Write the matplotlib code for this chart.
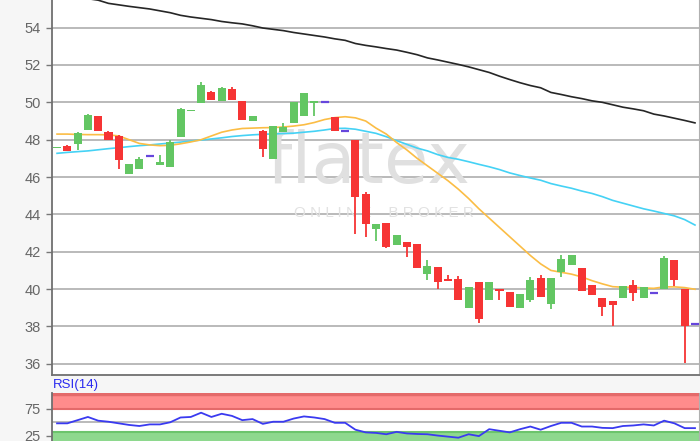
import numpy as np
import matplotlib
matplotlib.use('Agg')
import matplotlib.pyplot as plt

plt.rcParams['font.family'] = ['Liberation Sans', 'DejaVu Sans']

# daily candles (open, high, low, close)
opens = [47.55, 47.68, 47.77, 48.54, 49.27, 48.43, 48.21, 46.16, 46.43, 47.14,
         46.64, 46.52, 48.12, 49.52, 49.95, 50.57, 50.08, 50.71, 50.09, 49.02,
         48.44, 46.94, 48.40, 48.88, 49.29, 49.95, 50.00, 49.20, 48.49, 48.01,
         45.08, 43.22, 43.52, 42.36, 42.54, 42.41, 40.79, 41.17, 40.52, 40.54,
         39.00, 40.36, 39.44, 40.00, 39.87, 39.00, 39.42, 40.62, 39.20, 40.94,
         41.29, 41.12, 40.21, 39.52, 39.38, 39.50, 40.23, 39.50, 39.79, 40.00,
         41.54, 40.00, 38.14]
highs = [47.62, 47.73, 48.43, 49.35, 49.27, 48.45, 48.25, 46.70, 47.07, 47.14,
         47.20, 47.98, 49.70, 49.60, 51.07, 50.60, 50.80, 50.80, 50.09, 49.25,
         48.50, 48.72, 48.90, 50.00, 50.50, 50.09, 50.00, 49.20, 48.49, 48.01,
         45.18, 43.47, 43.52, 42.90, 42.54, 42.41, 41.55, 41.17, 40.75, 40.70,
         40.09, 40.40, 40.38, 40.00, 39.87, 39.74, 40.63, 40.76, 40.62, 41.83,
         41.83, 41.12, 40.21, 39.52, 39.38, 40.18, 40.50, 40.12, 39.79, 41.76,
         41.54, 40.00, 38.14]
lows = [47.55, 47.41, 47.46, 48.54, 48.46, 47.98, 46.43, 46.16, 46.43, 47.14,
        46.64, 46.52, 48.12, 49.52, 49.95, 50.14, 50.08, 50.14, 49.08, 49.02,
        47.07, 46.94, 48.40, 48.88, 49.29, 49.29, 50.00, 48.49, 48.49, 42.94,
        42.77, 42.58, 42.20, 42.36, 41.70, 41.11, 40.50, 40.02, 40.46, 39.42,
        39.00, 38.20, 39.44, 39.40, 39.02, 39.00, 39.29, 39.56, 38.94, 40.66,
        41.29, 39.91, 39.68, 38.58, 38.00, 39.50, 39.38, 39.50, 39.79, 40.00,
        40.18, 36.05, 38.14]
closes = [47.62, 47.41, 48.34, 49.32, 48.46, 47.98, 46.93, 46.70, 46.96, 47.14,
          46.82, 47.86, 49.64, 49.60, 50.93, 50.14, 50.78, 50.14, 49.08, 49.25,
          47.48, 48.72, 48.67, 50.00, 50.50, 50.09, 50.00, 48.49, 48.49, 44.93,
          43.49, 43.47, 42.27, 42.90, 42.24, 41.11, 41.24, 40.40, 40.46, 39.42,
          40.09, 38.40, 40.38, 39.92, 39.02, 39.74, 40.50, 39.56, 40.62, 41.60,
          41.83, 39.91, 39.68, 39.02, 39.17, 40.18, 39.77, 40.12, 39.79, 41.68,
          40.48, 38.05, 38.14]

# moving averages
ma_black = [55.85, 55.75, 55.65, 55.55, 55.47, 55.30, 55.22, 55.14, 55.07, 55.00,
            54.90, 54.80, 54.66, 54.57, 54.50, 54.43, 54.33, 54.26, 54.20, 54.10,
            53.98, 53.91, 53.84, 53.74, 53.66, 53.58, 53.50, 53.40, 53.32, 53.15,
            53.05, 52.97, 52.88, 52.80, 52.68, 52.55, 52.38, 52.27, 52.15, 52.03,
            51.90, 51.75, 51.60, 51.40, 51.22, 51.05, 50.90, 50.78, 50.53, 50.42,
            50.30, 50.20, 50.08, 50.00, 49.87, 49.74, 49.65, 49.55, 49.37, 49.27,
            49.15, 49.03, 48.90]
ma_orange = [48.30, 48.30, 48.28, 48.27, 48.27, 48.26, 48.20, 48.00, 47.80, 47.72,
             47.68, 47.70, 47.78, 47.88, 48.00, 48.20, 48.40, 48.52, 48.60, 48.62,
             48.64, 48.65, 48.68, 48.73, 48.80, 48.92, 49.08, 49.18, 49.23, 49.17,
             49.00, 48.62, 48.30, 47.85, 47.45, 47.00, 46.60, 46.20, 45.80, 45.35,
             44.85, 44.30, 43.80, 43.30, 42.80, 42.30, 41.80, 41.35, 41.00, 40.90,
             40.80, 40.65, 40.45, 40.28, 40.13, 40.10, 40.10, 40.06, 40.04, 40.12,
             40.12, 40.08, 39.99]
ma_cyan = [47.27, 47.32, 47.36, 47.40, 47.46, 47.52, 47.57, 47.63, 47.68, 47.72,
           47.77, 47.82, 47.87, 47.93, 47.98, 48.04, 48.10, 48.17, 48.22, 48.26,
           48.29, 48.31, 48.33, 48.35, 48.40, 48.45, 48.52, 48.60, 48.61, 48.56,
           48.45, 48.34, 48.16, 47.95, 47.75, 47.55, 47.40, 47.20, 47.05, 46.95,
           46.82, 46.68, 46.55, 46.40, 46.22, 46.08, 45.95, 45.83, 45.65, 45.52,
           45.40, 45.25, 45.12, 44.95, 44.75, 44.60, 44.45, 44.30, 44.18, 44.05,
           43.92, 43.72, 43.43]

rsi = [48, 48, 54, 60, 53, 51, 48, 45, 43, 46,
       46, 50, 59, 60, 68, 60, 66, 62, 54, 56,
       47, 51, 51, 57, 61, 59, 56, 49, 49, 36,
       31, 30, 27.5, 32, 29, 28, 27.5, 25, 23, 21,
       27.5, 24, 37, 34, 31, 37, 42, 36, 43, 49,
       49, 42, 42, 39.5, 39, 43, 44, 46, 44, 53,
       48, 39, 39]

price_ticks = [36, 38, 40, 42, 44, 46, 48, 50, 52, 54]
rsi_ticks = [25, 75]

green = '#63c663'
red = '#f63434'
doji = '#6646dc'
grid_c = '#b4b4b4'
lab_c = '#666666'

fig = plt.figure(figsize=(7.0, 4.41), dpi=100, facecolor='#f6f6f6')
ax = fig.add_axes([52 / 700, 1 - 375 / 441, 647 / 700, 375 / 441])
ax2 = fig.add_axes([52 / 700, 0, 647 / 700, 1 - 392.7 / 441])

x = np.arange(len(closes))
o = np.array(opens)
c = np.array(closes)
up = c > o
dn = c < o
eq = c == o

ax.set_facecolor('white')
for y in price_ticks:
    ax.axhline(y, color=grid_c, lw=1.3, zorder=0)

# watermark
ax.text(30.3, 46.75, 'flatex', fontsize=52, color='#e0e0e0', ha='center', va='center',
        family='DejaVu Sans', zorder=1)
ax.text(31.8, 44.05, 'O N L I N E    B R O K E R', fontsize=11, color='#e2e2e2',
        ha='center', va='center', zorder=1)

ax.plot(x, ma_black, color='#262626', lw=1.2, zorder=2)
ax.plot(x, ma_cyan, color='#45d2f5', lw=1.2, zorder=2)
ax.plot(x, ma_orange, color='#fbbd45', lw=1.2, zorder=2)

wick_cols = np.where(up, green, np.where(dn, red, doji))
ax.vlines(x, lows, highs, colors=wick_cols, lw=1.3, zorder=3)
ax.bar(x[up], (c - o)[up], bottom=o[up], width=0.78, color=green, zorder=4)
ax.bar(x[dn], (o - c)[dn], bottom=c[dn], width=0.78, color=red, zorder=4)
ax.hlines(c[eq], x[eq] - 0.39, x[eq] + 0.39, colors=doji, lw=1.6, zorder=4)

ax.set_xlim(-0.49, 62.39)
ax.set_ylim(35.40, 55.48)
ax.set_yticks(price_ticks)
ax.set_xticks([])
ax.tick_params(axis='y', colors='#777777', labelcolor=lab_c, labelsize=10.5, length=4, width=1, pad=4)
ax.spines['top'].set_visible(False)
ax.spines['left'].set_color('#707070')
ax.spines['bottom'].set_color('#707070')
ax.spines['right'].set_color('#b0b0b0')
ax.spines['left'].set_linewidth(1.3)
ax.spines['bottom'].set_linewidth(1.3)

# RSI panel
ax2.set_facecolor('white')
ax2.set_xlim(-0.49, 62.39)
ax2.set_ylim(14.8, 105.6)
ax2.axhspan(75, 105.6, color='#ff8c8c', lw=0, zorder=0)
ax2.axhline(75, color='#e46a6a', lw=1.5, zorder=1)
ax2.axhline(104, color='#e46a6a', lw=2.5, zorder=1)
ax2.axhspan(0, 32, color='#8ed88e', lw=0, zorder=0)
ax2.axhline(32, color='#6cc46c', lw=1.5, zorder=1)
ax2.axhline(50, color=grid_c, lw=1.3, zorder=1)
ax2.plot(x, rsi, color='#3a3af0', lw=1.3, zorder=3)
ax2.set_yticks(rsi_ticks)
ax2.set_xticks([])
ax2.tick_params(axis='y', colors='#777777', labelcolor=lab_c, labelsize=10.5, length=4, width=1, pad=4)
for s in ['top', 'bottom']:
    ax2.spines[s].set_visible(False)
ax2.spines['left'].set_color('#707070')
ax2.spines['left'].set_linewidth(1.3)
ax2.spines['right'].set_color('#b0b0b0')

fig.text(53 / 700, 1 - 385 / 441, 'RSI(14)', color='#2a2af0', fontsize=9.5, ha='left', va='center')

fig.savefig('out.png', dpi=100, facecolor=fig.get_facecolor())
